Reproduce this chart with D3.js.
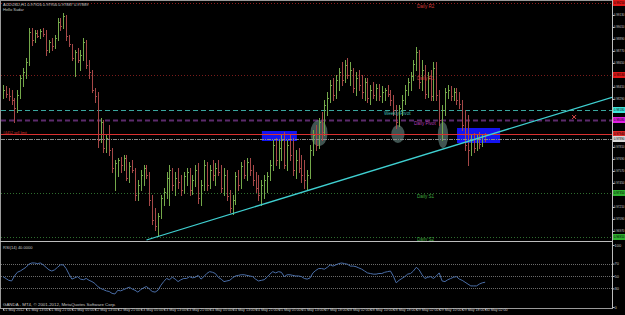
<!DOCTYPE html>
<html>
<head>
<meta charset="utf-8">
<script src="https://cdn.jsdelivr.net/npm/d3@7"></script>
<style>
  html, body { margin: 0; padding: 0; background: #000; overflow: hidden; }
  svg { display: block; }
</style>
</head>
<body>
<div id="chart"></div>
<script>
// AUDUSD H1 bars, 21 May 2012 .. 30 May 2012
const openP = [
  0.9836,0.9838,0.9834,0.9832,0.9828,0.9820,0.9833,0.9850,0.9856,0.9866,
  0.9896,0.9888,0.9895,0.9892,0.9897,0.9894,0.9878,0.9886,0.9882,0.9890,
  0.9906,0.9902,0.9912,0.9892,0.9882,0.9870,0.9876,0.9868,0.9873,0.9886,
  0.9863,0.9856,0.9838,0.9832,0.9788,0.9806,0.9780,0.9790,0.9778,0.9758,
  0.9756,0.9768,0.9763,0.9770,0.9750,0.9762,0.9758,0.9733,0.9743,0.9753,
  0.9760,0.9752,0.9728,0.9708,0.9702,0.9712,0.9730,0.9736,0.9743,0.9756,
  0.9743,0.9750,0.9746,0.9738,0.9752,0.9756,0.9738,0.9748,0.9758,0.9730,
  0.9743,0.9763,0.9743,0.9758,0.9753,0.9760,0.9756,0.9740,0.9753,0.9732,
  0.9720,0.9728,0.9752,0.9743,0.9762,0.9753,0.9766,0.9758,0.9748,0.9740,
  0.9733,0.9743,0.9748,0.9752,0.9763,0.9783,0.9768,0.9780,0.9788,0.9763,
  0.9783,0.9773,0.9758,0.9768,0.9760,0.9753,0.9748,0.9753,0.9778,0.9793,
  0.9783,0.9806,0.9796,0.9823,0.9830,0.9843,0.9833,0.9848,0.9856,0.9848,
  0.9863,0.9853,0.9858,0.9840,0.9850,0.9843,0.9836,0.9846,0.9830,0.9838,
  0.9833,0.9840,0.9832,0.9836,0.9838,0.9834,0.9828,0.9818,0.9806,0.9820,
  0.9828,0.9838,0.9846,0.9852,0.9864,0.9876,0.9846,0.9858,0.9834,0.9850,
  0.9832,0.9860,0.9833,0.9808,0.9818,0.9836,0.9838,0.9832,0.9836,0.9828,
  0.9824,0.9803,0.9783,0.9778,0.9788,0.9780,0.9790,0.9784,0.9792
]
const highP = [
  0.9843,0.9842,0.9840,0.9838,0.9830,0.9838,0.9853,0.9860,0.9870,0.9900,
  0.9900,0.9898,0.9898,0.9899,0.9900,0.9898,0.9888,0.9890,0.9893,0.9910,
  0.9910,0.9915,0.9913,0.9893,0.9884,0.9878,0.9880,0.9878,0.9890,0.9888,
  0.9868,0.9858,0.9840,0.9836,0.9810,0.9808,0.9793,0.9803,0.9780,0.9768,
  0.9770,0.9771,0.9773,0.9773,0.9766,0.9768,0.9760,0.9748,0.9758,0.9763,
  0.9763,0.9756,0.9733,0.9720,0.9715,0.9733,0.9740,0.9756,0.9763,0.9760,
  0.9756,0.9760,0.9753,0.9756,0.9760,0.9760,0.9753,0.9763,0.9765,0.9748,
  0.9768,0.9766,0.9763,0.9768,0.9765,0.9768,0.9763,0.9760,0.9758,0.9738,
  0.9733,0.9756,0.9758,0.9766,0.9768,0.9770,0.9770,0.9763,0.9756,0.9753,
  0.9748,0.9753,0.9756,0.9768,0.9788,0.9790,0.9788,0.9793,0.9796,0.9788,
  0.9793,0.9790,0.9778,0.9780,0.9773,0.9768,0.9758,0.9783,0.9798,0.9803,
  0.9810,0.9816,0.9828,0.9836,0.9848,0.9850,0.9853,0.9860,0.9866,0.9868,
  0.9870,0.9866,0.9860,0.9856,0.9858,0.9853,0.9850,0.9850,0.9843,0.9846,
  0.9844,0.9844,0.9842,0.9840,0.9843,0.9838,0.9833,0.9823,0.9823,0.9833,
  0.9843,0.9850,0.9856,0.9868,0.9881,0.9878,0.9868,0.9863,0.9856,0.9858,
  0.9866,0.9866,0.9838,0.9823,0.9840,0.9843,0.9842,0.9840,0.9840,0.9836,
  0.9828,0.9818,0.9813,0.9793,0.9795,0.9794,0.9796,0.9794,0.9795
]
const lowP = [
  0.9830,0.9831,0.9828,0.9824,0.9806,0.9816,0.9830,0.9842,0.9850,0.9863,
  0.9883,0.9886,0.9891,0.9890,0.9892,0.9873,0.9876,0.9878,0.9880,0.9888,
  0.9898,0.9900,0.9888,0.9882,0.9868,0.9852,0.9866,0.9858,0.9868,0.9860,
  0.9850,0.9836,0.9826,0.9781,0.9786,0.9776,0.9776,0.9773,0.9756,0.9738,
  0.9752,0.9756,0.9758,0.9748,0.9746,0.9756,0.9728,0.9728,0.9738,0.9743,
  0.9750,0.9723,0.9704,0.9698,0.9692,0.9710,0.9723,0.9730,0.9723,0.9738,
  0.9733,0.9740,0.9733,0.9735,0.9743,0.9733,0.9734,0.9742,0.9725,0.9723,
  0.9738,0.9738,0.9740,0.9748,0.9743,0.9753,0.9736,0.9733,0.9728,0.9716,
  0.9714,0.9724,0.9738,0.9740,0.9750,0.9748,0.9753,0.9743,0.9736,0.9728,
  0.9723,0.9730,0.9736,0.9748,0.9758,0.9763,0.9760,0.9768,0.9760,0.9758,
  0.9768,0.9753,0.9750,0.9756,0.9746,0.9740,0.9738,0.9750,0.9773,0.9778,
  0.9780,0.9788,0.9793,0.9813,0.9826,0.9828,0.9830,0.9838,0.9843,0.9846,
  0.9850,0.9843,0.9836,0.9833,0.9838,0.9830,0.9828,0.9826,0.9824,0.9830,
  0.9828,0.9828,0.9826,0.9828,0.9832,0.9823,0.9813,0.9800,0.9802,0.9813,
  0.9824,0.9833,0.9838,0.9848,0.9858,0.9840,0.9838,0.9830,0.9831,0.9828,
  0.9828,0.9828,0.9803,0.9788,0.9813,0.9830,0.9828,0.9828,0.9824,0.9820,
  0.9798,0.9778,0.9763,0.9773,0.9776,0.9778,0.9780,0.9782,0.9787
]
const closeP = [
  0.9838,0.9834,0.9832,0.9828,0.9820,0.9833,0.9850,0.9856,0.9866,0.9896,
  0.9888,0.9895,0.9892,0.9897,0.9894,0.9878,0.9886,0.9882,0.9890,0.9906,
  0.9902,0.9912,0.9892,0.9884,0.9870,0.9876,0.9868,0.9873,0.9886,0.9863,
  0.9856,0.9838,0.9832,0.9788,0.9806,0.9780,0.9790,0.9778,0.9760,0.9765,
  0.9768,0.9763,0.9770,0.9750,0.9762,0.9758,0.9733,0.9743,0.9753,0.9760,
  0.9753,0.9728,0.9708,0.9702,0.9712,0.9730,0.9736,0.9750,0.9758,0.9743,
  0.9750,0.9746,0.9738,0.9752,0.9756,0.9738,0.9748,0.9758,0.9730,0.9743,
  0.9763,0.9743,0.9758,0.9753,0.9760,0.9756,0.9740,0.9753,0.9732,0.9720,
  0.9728,0.9752,0.9743,0.9762,0.9753,0.9766,0.9758,0.9748,0.9740,0.9733,
  0.9743,0.9748,0.9752,0.9763,0.9783,0.9768,0.9780,0.9788,0.9763,0.9783,
  0.9773,0.9758,0.9768,0.9760,0.9753,0.9748,0.9753,0.9778,0.9793,0.9783,
  0.9806,0.9796,0.9823,0.9830,0.9843,0.9833,0.9848,0.9856,0.9848,0.9863,
  0.9853,0.9858,0.9840,0.9850,0.9843,0.9836,0.9846,0.9830,0.9838,0.9833,
  0.9840,0.9832,0.9836,0.9838,0.9834,0.9828,0.9818,0.9806,0.9820,0.9828,
  0.9838,0.9846,0.9852,0.9864,0.9876,0.9846,0.9858,0.9834,0.9850,0.9832,
  0.9860,0.9833,0.9808,0.9818,0.9836,0.9838,0.9832,0.9836,0.9828,0.9824,
  0.9803,0.9783,0.9778,0.9788,0.9780,0.9790,0.9784,0.9792,0.9789
]

// RSI(14), one value per bar
const rsiVals = [
  49,46,43,42,50,56,58,61,64,69, 71,71,70,71,68,64,60,58,60,64,
  68,68,62,53,45,47,49,45,44,46, 43,41,38,33,30,28,26,25,22,21,
  27,26,28,30,32,29,27,24,28,31, 33,29,25,24,27,35,41,46,44,48,
  45,41,44,46,46,49,47,48,51,45, 49,54,57,56,54,48,45,41,42,43,
  47,50,51,52,52,51,50,49,45,42, 43,44,48,53,57,55,57,56,49,52,
  52,51,50,50,49,46,45,47,55,59, 62,62,61,64,68,66,68,70,71,70,
  69,66,66,65,63,61,58,55,54,53, 53,54,54,56,57,58,50,39,43,46,
  49,53,54,58,64,60,52,46,48,49, 46,50,55,42,41,44,46,48,49,45,
  43,40,37,34,34,34,37,39,40
]

const timeLabels = [
  '21 May 2012','21 May 13:00','21 May 21:00','22 May 05:00','22 May 13:00','22 May 21:00',
  '23 May 05:00','23 May 13:00','23 May 21:00','24 May 05:00','24 May 13:00','24 May 21:00',
  '25 May 05:00','25 May 13:00','27 May 18:00','28 May 02:00','28 May 10:00','28 May 18:00',
  '29 May 02:00','29 May 10:00','29 May 18:00','30 May 02:00'
]
const priceTicks = [0.9913,0.9901,0.9889,0.9877,0.9865,0.9841,0.9829,0.9781,0.9769,0.9757,0.9745,0.9721,0.9709,0.9697]
const rsiTicks = [100, 70, 50, 30, 0]
const rsiLevels = [70, 50, 30]

// pivot levels and the horizontal objects
const levelNames = ['Daily R2','Daily R1','Weekly Pivot','Daily Pivot','Daily S1','Daily S2']
const levelPrices = [0.9925, 0.9853, 0.9818, 0.9808, 0.9735, 0.9691]
const orderPrice = 0.9794
const trendTimes = [50, 150]
const trendPrices = [0.9688, 0.9776]
const boxTimes = [[90.2, 102.4], [158.2, 173.2]]
const boxPrices = [[0.9797, 0.9787], [0.9800, 0.9785]]
const ellipseTimes = [110.1, 137.6, 153.3]
const ellipsePrices = [0.9795, 0.9794, 0.9793]
const ellipseHalfBars = [3.0, 2.3, 1.8]
const ellipseHalfPrice = [0.0013, 0.0009, 0.0013]
const markTime = 199
const markPrice = 0.9811

const W = 625, H = 315
const FONT = '"Liberation Sans", Arial, sans-serif'
const main = { left: 1, right: 612, top: 1, bottom: 241 }
const sub = { top: 243, bottom: 308 }
const AXIS_FONT = '3px'   // the axis strip is only ~12px wide

const levelStyle = {
  'Daily R2':     { line: '#8e1c1c', dash: '1,2', text: '#d23a3a', tag: '#e01818', w: 1, tx: 417 },
  'Daily R1':     { line: '#7a1c1c', dash: '1,2', text: '#d23a3a', tag: '#e01818', w: 1, tx: 417 },
  'Weekly Pivot': { line: '#3aa89e', dash: '5,3', text: '#3fbab0', tag: '#3fe6da', w: 1, tx: 384 },
  'Daily Pivot':  { line: '#5c2a6c', dash: '5,3', text: '#b23ab2', tag: '#e21ee2', w: 2, tx: 414 },
  'Daily S1':     { line: '#2e6e2e', dash: '1,2', text: '#3fa83f', tag: '#2fb02f', w: 1, tx: 417 },
  'Daily S2':     { line: '#2e6e2e', dash: '1,2', text: '#3fa83f', tag: '#2fb02f', w: 1, tx: 417 },
}

const x = d3.scaleLinear().domain([0, 212.2]).range([3, 612])
const y = d3.scaleLinear().domain([0.9688, 0.9928]).range([240, 0])
const yr = d3.scaleLinear().domain([0, 100]).range([307, 245])

const svg = d3.select('#chart').append('svg')
  .attr('width', W).attr('height', H)
  .style('background', '#000')
  .attr('font-family', FONT)

const defs = svg.append('defs')
defs.append('clipPath').attr('id', 'clipMain')
  .append('rect').attr('x', main.left).attr('y', main.top)
  .attr('width', main.right - main.left).attr('height', main.bottom - main.top)
defs.append('clipPath').attr('id', 'clipSub')
  .append('rect').attr('x', main.left).attr('y', sub.top)
  .attr('width', main.right - main.left).attr('height', sub.bottom - sub.top)

const g = svg.append('g').attr('clip-path', 'url(#clipMain)')
const px = v => Math.round(v) + 0.5

// blue boxes sit behind the bars
g.selectAll('.box').data(boxTimes).join('rect')
  .attr('x', d => x(d[0])).attr('width', d => x(d[1]) - x(d[0]))
  .attr('y', (d, i) => y(boxPrices[i][0]))
  .attr('height', (d, i) => y(boxPrices[i][1]) - y(boxPrices[i][0]))
  .attr('fill', '#1414f0')

// level lines
levelNames.forEach((name, i) => {
  const s = levelStyle[name]
  g.append('line')
    .attr('x1', main.left).attr('x2', main.right)
    .attr('y1', px(y(levelPrices[i]))).attr('y2', px(y(levelPrices[i])))
    .attr('stroke', s.line).attr('stroke-width', s.w)
    .attr('stroke-dasharray', s.dash)
})

// ellipses
g.selectAll('.ell').data(ellipseTimes).join('ellipse')
  .attr('cx', d => x(d)).attr('cy', (d, i) => y(ellipsePrices[i]))
  .attr('rx', (d, i) => x(ellipseHalfBars[i]) - x(0))
  .attr('ry', (d, i) => y(0.97) - y(0.97 + ellipseHalfPrice[i]))
  .attr('fill', '#7fa7a2').attr('fill-opacity', 0.5)

// bars
const bars = g.append('g').attr('shape-rendering', 'crispEdges')
d3.range(openP.length).forEach(i => {
  const cx = px(x(i))
  const up = closeP[i] >= openP[i]
  const col = up ? '#74a84a' : '#a64848'
  bars.append('line').attr('x1', cx).attr('x2', cx)
    .attr('y1', y(highP[i])).attr('y2', y(lowP[i]) + 1).attr('stroke', col)
  bars.append('line').attr('x1', cx - 1).attr('x2', cx)
    .attr('y1', px(y(openP[i]))).attr('y2', px(y(openP[i]))).attr('stroke', col)
  bars.append('line').attr('x1', cx).attr('x2', cx + 1.5)
    .attr('y1', px(y(closeP[i]))).attr('y2', px(y(closeP[i]))).attr('stroke', col)
})

// order line and bid line
g.append('line')
  .attr('x1', main.left).attr('x2', main.right)
  .attr('y1', px(y(orderPrice))).attr('y2', px(y(orderPrice)))
  .attr('stroke', '#d83030').attr('stroke-width', 1)
const bid = closeP[closeP.length - 1]
g.append('line')
  .attr('x1', main.left).attr('x2', main.right)
  .attr('y1', px(y(bid))).attr('y2', px(y(bid)))
  .attr('stroke', '#8a8a8a').attr('stroke-dasharray', '4,1,1,1')

// trend line (ray to the right)
const slope = (trendPrices[1] - trendPrices[0]) / (trendTimes[1] - trendTimes[0])
const tEnd = x.domain()[1]
g.append('line')
  .attr('x1', x(trendTimes[0])).attr('y1', y(trendPrices[0]))
  .attr('x2', x(tEnd)).attr('y2', y(trendPrices[0] + slope * (tEnd - trendTimes[0])))
  .attr('stroke', '#3fcfd0').attr('stroke-width', 1.3)

// small cross object
const mx = x(markTime), my = y(markPrice)
g.append('path')
  .attr('d', `M${mx - 2},${my - 2}L${mx + 2},${my + 2}M${mx + 2},${my - 2}L${mx - 2},${my + 2}`)
  .attr('stroke', '#e04a4a').attr('stroke-width', 1)

// level texts
levelNames.forEach((name, i) => {
  const s = levelStyle[name]
  svg.append('text')
    .attr('x', s.tx).attr('y', Math.min(y(levelPrices[i]) + 5, 240.5))
    .attr('fill', s.text).attr('font-size', '4.6px')
    .text(name)
})

// chart header texts
svg.append('text').attr('x', 3).attr('y', 6)
  .attr('fill', '#c8c8c8').attr('font-size', '4px')
  .text('AUDUSD,H1  0.97926 0.97956 0.97887 0.97889')
svg.append('text').attr('x', 3).attr('y', 11)
  .attr('fill', '#c8c8c8').attr('font-size', '4px')
  .text('Hello Sudar')
svg.append('text').attr('x', 3).attr('y', y(orderPrice) - 0.5)
  .attr('fill', '#d83030').attr('font-size', '3.6px')
  .text('#4452 sell limit')

// frames
svg.append('rect').attr('x', 0.5).attr('y', 0.5)
  .attr('width', main.right).attr('height', sub.bottom)
  .attr('fill', 'none').attr('stroke', '#9a9a9a')
svg.append('line').attr('x1', 0).attr('x2', main.right)
  .attr('y1', 241.5).attr('y2', 241.5).attr('stroke', '#bdbdbd')

// price axis
svg.append('g')
  .attr('transform', `translate(${main.right + 0.5},0)`)
  .call(d3.axisRight(y).tickValues(priceTicks).tickFormat(d3.format('.5f')).tickSize(2))
  .call(a => {
    a.select('.domain').attr('stroke', '#bdbdbd').attr('d', `M0,0V${sub.bottom}`)
    a.selectAll('.tick line').attr('stroke', '#bdbdbd')
    a.selectAll('.tick text').attr('fill', '#c8c8c8').attr('font-size', AXIS_FONT)
      .attr('font-family', FONT).attr('x', 1.2)
  })

// coloured price tags on the axis
const tags = levelNames.map((n, i) => ({ p: levelPrices[i], c: levelStyle[n].tag }))
tags.push({ p: orderPrice, c: '#e02828' })
tags.push({ p: bid, c: '#d8d8d8' })
const tagG = svg.append('g')
tags.forEach(t => {
  const ty = Math.min(y(t.p), 238)
  tagG.append('rect').attr('x', main.right + 1).attr('y', ty - 3)
    .attr('width', 13).attr('height', 6).attr('fill', t.c)
  tagG.append('text').attr('x', main.right + 1.7).attr('y', ty + 1.1)
    .attr('fill', '#000').attr('font-size', AXIS_FONT)
    .text(d3.format('.5f')(t.p))
})

// RSI sub window
const sg = svg.append('g').attr('clip-path', 'url(#clipSub)')
rsiLevels.forEach(l => {
  sg.append('line').attr('x1', main.left).attr('x2', main.right)
    .attr('y1', px(yr(l))).attr('y2', px(yr(l)))
    .attr('stroke', '#6a6a6a').attr('stroke-dasharray', '1,1')
})
sg.append('path')
  .datum(rsiVals)
  .attr('fill', 'none').attr('stroke', '#4a6ea8').attr('stroke-width', 1)
  .attr('d', d3.line().x((d, i) => x(i)).y(d => yr(d)))

svg.append('text').attr('x', 3).attr('y', 249)
  .attr('fill', '#c8c8c8').attr('font-size', '4px')
  .text('RSI(14) ' + rsiVals[rsiVals.length - 1].toFixed(4))

svg.append('g')
  .attr('transform', `translate(${main.right + 0.5},0)`)
  .call(d3.axisRight(yr).tickValues(rsiTicks).tickSize(2))
  .call(a => {
    a.select('.domain').remove()
    a.selectAll('.tick line').attr('stroke', '#bdbdbd')
    a.selectAll('.tick text').attr('fill', '#c8c8c8').attr('font-size', '4px')
      .attr('font-family', FONT).attr('x', 2)
  })

svg.append('text').attr('x', 3).attr('y', 306)
  .attr('fill', '#c8c8c8').attr('font-size', '4.4px')
  .text('GANDA - MT4, \u00a9 2001-2012, MetaQuotes Software Corp.')

// time axis
svg.append('g')
  .attr('transform', `translate(0,${sub.bottom + 0.5})`)
  .call(d3.axisBottom(x).tickValues(timeLabels.map((d, i) => i * 8))
    .tickFormat((d, i) => timeLabels[i]).tickSize(2))
  .call(a => {
    a.select('.domain').remove()
    a.selectAll('.tick line').attr('stroke', '#bdbdbd')
    a.selectAll('.tick text').attr('fill', '#c8c8c8').attr('font-size', '3.6px')
      .attr('font-family', FONT).attr('text-anchor', 'start').attr('dy', '0.2em').attr('y', 1.5)
  })
</script>
</body>
</html>
